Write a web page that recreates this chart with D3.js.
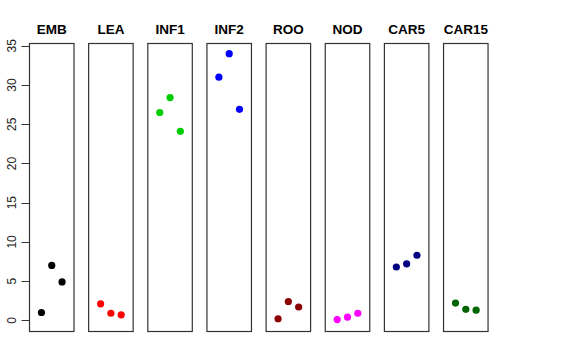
<!DOCTYPE html>
<html>
<head>
<meta charset="utf-8">
<script src="https://cdn.jsdelivr.net/npm/d3@7"></script>
<style>
  body { margin: 0; background: #fff; }
  text { font-family: "Liberation Sans", Arial, sans-serif; }
</style>
</head>
<body>
<div id="chart"></div>
<script>
// tissue panels, three replicates each
var tissues = ["EMB", "LEA", "INF1", "INF2", "ROO", "NOD", "CAR5", "CAR15"];
var colors = ["#000000", "#ff0000", "#00cd00", "#0000ff", "#8b0000", "#ff00ff", "#000080", "#006400"];
var rep1 = [1.0, 2.1, 26.5, 31.0, 0.2, 0.1, 6.8, 2.2];
var rep2 = [7.0, 0.9, 28.4, 34.0, 2.4, 0.4, 7.2, 1.4];
var rep3 = [4.9, 0.7, 24.1, 26.9, 1.7, 0.9, 8.3, 1.3];
var yTicks = [0, 5, 10, 15, 20, 25, 30, 35];

var width = 576, height = 360;
var plotTop = 43, plotBottom = 331;
var panelW = 44.5, pitch = 59.15, left0 = 29;

var svg = d3.select("#chart").append("svg")
    .attr("width", width)
    .attr("height", height);

// R style 4% padding around ylim 0..34
var ylo = 0, yhi = 34, pad = (yhi - ylo) * 0.04;
var y = d3.scaleLinear().domain([ylo - pad, yhi + pad]).range([plotBottom, plotTop]);
var x = d3.scaleLinear().domain([-0.16, 4.16]).range([0, panelW]);

var panels = svg.selectAll("g.panel")
    .data(tissues)
    .enter()
    .append("g")
    .attr("class", "panel")
    .attr("transform", function(d, i) { return "translate(" + (left0 + i * pitch) + ",0)"; });

panels.append("rect")
    .attr("x", 0.5)
    .attr("y", plotTop + 0.5)
    .attr("width", panelW)
    .attr("height", plotBottom - plotTop)
    .attr("fill", "none")
    .attr("stroke", "#333")
    .attr("stroke-width", 1.2);

panels.append("text")
    .attr("x", panelW / 2 + 0.5)
    .attr("y", 34)
    .attr("text-anchor", "middle")
    .style("font-size", "13.5px")
    .style("font-weight", "bold")
    .text(function(d) { return d; });

panels.each(function(d, i) {
    var vals = [rep1[i], rep2[i], rep3[i]];
    d3.select(this).selectAll("circle")
        .data(vals)
        .enter()
        .append("circle")
        .attr("cx", function(v, j) { return x(j + 1) + 0.5; })
        .attr("cy", function(v) { return y(v); })
        .attr("r", 3.6)
        .attr("fill", colors[i]);
});

// y axis on the first panel, labels turned like R
var axis = svg.append("g").attr("transform", "translate(" + (left0 + 0.5) + ",0)");
axis.append("line")
    .attr("x1", 0).attr("x2", 0)
    .attr("y1", y(0)).attr("y2", y(35))
    .attr("stroke", "#333");
axis.selectAll("line.tick")
    .data(yTicks)
    .enter()
    .append("line")
    .attr("class", "tick")
    .attr("x1", -8).attr("x2", 0)
    .attr("y1", function(d) { return Math.round(y(d)) + 0.5; })
    .attr("y2", function(d) { return Math.round(y(d)) + 0.5; })
    .attr("stroke", "#333");
axis.selectAll("text")
    .data(yTicks)
    .enter()
    .append("text")
    .attr("transform", function(d) { return "translate(-14," + y(d) + ") rotate(-90)"; })
    .attr("text-anchor", "middle")
    .style("font-size", "12px")
    .attr("fill", "#222")
    .text(function(d) { return d; });
</script>
</body>
</html>
